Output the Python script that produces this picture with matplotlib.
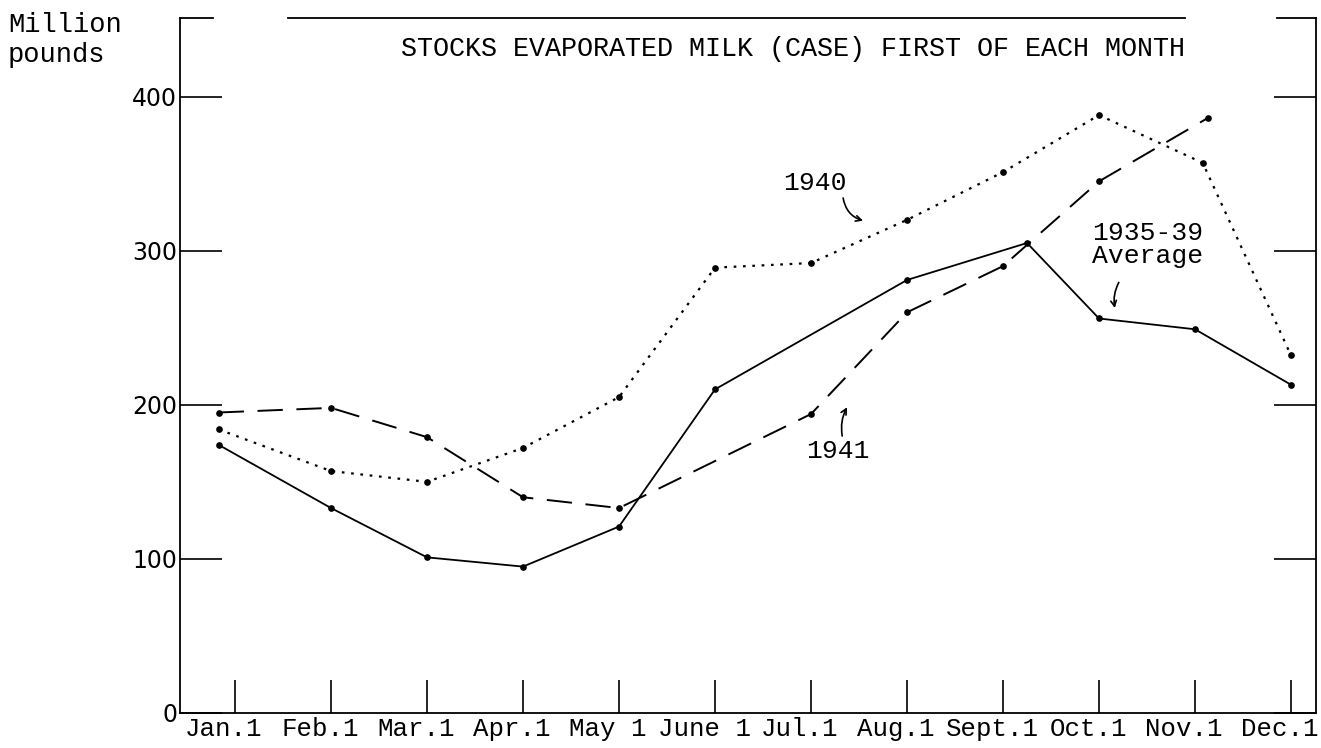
import matplotlib
matplotlib.use("Agg")
import matplotlib.pyplot as plt
import matplotlib.transforms as mtransforms

# month ticks and labels as typed on the original sheet
month_ticks = list(range(12))
month_labels = ["Jan.1", "Feb.1", "Mar.1", "Apr.1", "May 1", "June 1",
                "Jul.1", "Aug.1", "Sept.1", "Oct.1", "Nov.1", "Dec.1"]

# million pounds (x = month position)
x_1940 = [-0.17, 1, 2, 3, 4, 5, 6, 7, 8, 9, 10.08, 11]
y_1940 = [184, 157, 150, 172, 205, 289, 292, 320, 351, 388, 357, 232]

x_1941 = [-0.17, 1, 2, 3, 4, 6, 7, 8, 9, 10.13]
y_1941 = [195, 198, 179, 140, 133, 194, 260, 290, 345, 386]

x_avg = [-0.17, 1, 2, 3, 4, 5, 7, 8.25, 9, 10, 11]
y_avg = [174, 133, 101, 95, 121, 210, 281, 305, 256, 249, 213]

yticks = [0, 100, 200, 300, 400]

mono = "Liberation Mono"

fig = plt.figure(figsize=(13.21, 7.48), dpi=100)
ax = fig.add_axes([180 / 1321, 1 - 713 / 748, 1136 / 1321, 695 / 748])

ax.plot(x_1940, y_1940, color="black", lw=1.6, linestyle=(0, (1.2, 3.0)),
        marker="o", markersize=3.8)
ax.plot(x_1941, y_1941, color="black", lw=1.4, linestyle=(0, (13, 7)),
        marker="o", markersize=3.8)
ax.plot(x_avg, y_avg, color="black", lw=1.3, linestyle="-",
        marker="o", markersize=3.8)

ax.set_xlim(-0.573, 11.26)
ax.set_ylim(0, 451)

ax.set_xticks(month_ticks)
ax.set_xticklabels(month_labels, fontfamily=mono, fontsize=18.5)
ax.set_yticks(yticks)
ax.set_yticklabels([str(v) for v in yticks], fontsize=17)

ax.tick_params(axis="x", direction="in", length=24, width=1.2, pad=3)
ax.tick_params(axis="y", direction="in", length=30, width=1.2, pad=2,
               left=True, right=True)
shift = mtransforms.ScaledTranslation(-11 / 100, 0, fig.dpi_scale_trans)
for lbl in ax.get_xticklabels():
    lbl.set_transform(lbl.get_transform() + shift)

for s in ["left", "right", "bottom"]:
    ax.spines[s].set_linewidth(1.3)
ax.spines["top"].set_visible(False)
# broken top rule, typed in pieces
for a, b in [(0.0, 0.029), (0.095, 0.885), (0.966, 1.0)]:
    ax.plot([a, b], [1, 1], transform=ax.transAxes, color="black",
            lw=1.3, clip_on=False)

fig.text(8 / 1321, 1 - 12 / 748, "Million\npounds", fontfamily=mono,
         fontsize=19.5, va="top", ha="left", linespacing=1.2)
fig.text(793 / 1321, 1 - 49 / 748,
         "STOCKS EVAPORATED MILK (CASE) FIRST OF EACH MONTH",
         fontfamily=mono, fontsize=19.3, ha="center", va="center")

ax.text(6.04, 344, "1940", fontfamily=mono, fontsize=19, ha="center", va="center")
ax.annotate("", xy=(6.57, 319), xytext=(6.33, 336),
            arrowprops=dict(arrowstyle="->", lw=1.2,
                            connectionstyle="arc3,rad=0.35"))

ax.text(6.28, 170, "1941", fontfamily=mono, fontsize=19, ha="center", va="center")
ax.annotate("", xy=(6.39, 200), xytext=(6.33, 178),
            arrowprops=dict(arrowstyle="->", lw=1.2,
                            connectionstyle="arc3,rad=-0.2"))

ax.text(9.51, 304, "1935-39\nAverage", fontfamily=mono, fontsize=19,
        ha="center", va="center", linespacing=0.95)
ax.annotate("", xy=(9.17, 261), xytext=(9.22, 281),
            arrowprops=dict(arrowstyle="->", lw=1.2,
                            connectionstyle="arc3,rad=0.2"))

fig.savefig("out.png", dpi=100)
